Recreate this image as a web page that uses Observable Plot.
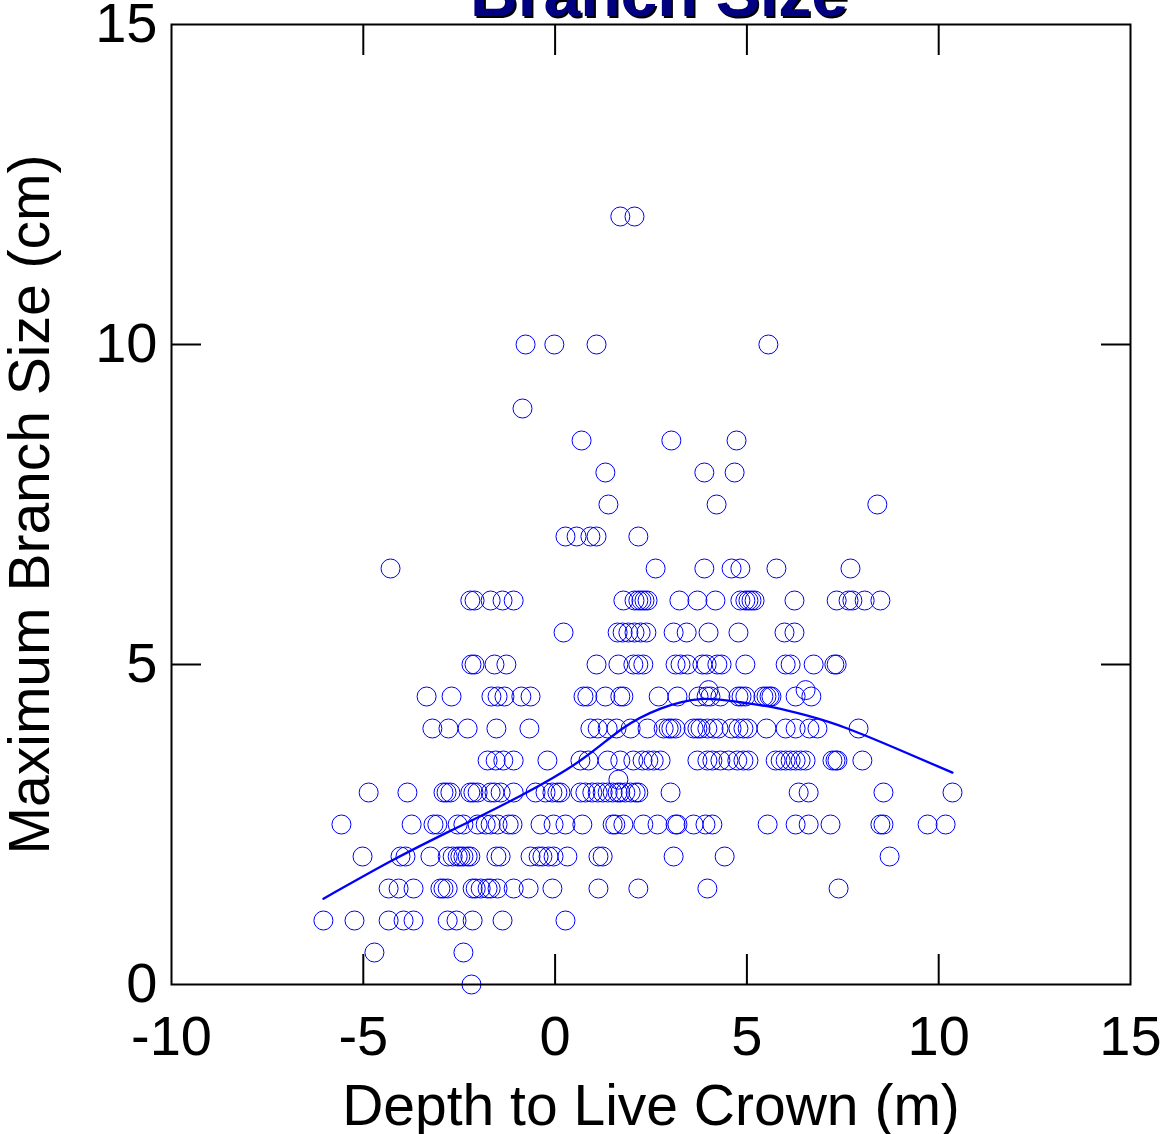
<!DOCTYPE html>
<html>
<head>
<meta charset="utf-8">
<script src="https://cdn.jsdelivr.net/npm/d3@7"></script>
<script src="https://cdn.jsdelivr.net/npm/@observablehq/plot@0.6"></script>
<style>
  body { margin: 0; background: #fff; }
  #chart svg { display: block; }
</style>
</head>
<body>
<div id="chart"></div>
<script>
// ---- Data ----
// Maximum branch size levels (cm)
const sizeLevels = [12, 10, 9, 8.5, 8, 7.5, 7, 6.5, 6, 5.5, 5, 4.6, 4.5, 4, 3.5, 3.2, 3, 2.5, 2, 1.5, 1, 0.5, 0];
// Depth to live crown (m) of each tree at that size level
const depthsAtLevel = [
  [1.70, 2.07],
  [-0.77, -0.02, 1.08, 5.56],
  [-0.85],
  [0.69, 3.03, 4.73],
  [1.31, 3.89, 4.68],
  [1.39, 4.21, 8.40],
  [0.27, 0.56, 0.92, 1.08, 2.17],
  [-4.29, 2.62, 3.89, 4.60, 4.83, 5.77, 7.70],
  [-2.21, -2.10, -1.68, -1.37, -1.08, 1.78, 2.07, 2.17, 2.25, 2.33, 2.41, 3.24, 3.71, 4.18, 4.83, 4.96, 5.04, 5.12, 5.20, 6.24, 7.34, 7.65, 7.75, 8.07, 8.48],
  [0.22, 1.63, 1.76, 1.91, 2.07, 2.23, 2.38, 3.09, 3.43, 4.00, 4.78, 5.98, 6.24],
  [-2.18, -2.10, -1.58, -1.27, 1.08, 1.65, 2.04, 2.17, 2.30, 3.14, 3.27, 3.45, 3.84, 3.95, 4.23, 4.34, 4.96, 6.01, 6.14, 6.74, 7.28, 7.34],
  [4.00, 6.53],
  [-3.35, -2.70, -1.66, -1.50, -1.32, -0.88, -0.64, 0.74, 0.84, 1.31, 1.70, 1.78, 2.70, 3.19, 3.74, 3.95, 4.05, 4.31, 4.78, 4.86, 4.96, 5.43, 5.51, 5.59, 5.64, 6.27, 6.68],
  [-3.20, -2.78, -2.28, -1.53, -0.67, 0.92, 1.11, 1.37, 1.60, 1.97, 2.41, 2.83, 2.96, 3.03, 3.14, 3.61, 3.71, 3.79, 3.97, 4.13, 4.26, 4.60, 4.78, 4.91, 5.02, 5.51, 6.01, 6.27, 6.63, 6.84, 7.91],
  [-1.76, -1.55, -1.35, -1.08, -0.20, 0.66, 0.87, 1.37, 1.70, 2.04, 2.28, 2.43, 2.57, 2.75, 3.71, 3.97, 4.10, 4.31, 4.52, 4.75, 4.91, 5.04, 5.75, 5.88, 6.01, 6.14, 6.27, 6.40, 6.53, 7.23, 7.31, 7.36, 8.01],
  [1.65],
  [-4.86, -3.85, -2.91, -2.83, -2.73, -2.21, -2.13, -2.02, -1.68, -1.58, -1.42, -1.08, -0.51, -0.25, -0.07, 0.06, 0.14, 0.66, 0.79, 0.97, 1.11, 1.24, 1.37, 1.50, 1.63, 1.70, 1.83, 1.97, 2.10, 2.17, 3.01, 6.35, 6.61, 8.56, 10.36],
  [-5.57, -3.74, -3.17, -3.07, -2.54, -2.39, -2.02, -1.81, -1.68, -1.50, -1.21, -1.11, -0.38, -0.04, 0.27, 0.71, 1.50, 1.57, 1.78, 2.30, 2.67, 3.14, 3.19, 3.61, 3.92, 4.10, 5.54, 6.27, 6.61, 7.18, 8.48, 8.56, 9.71, 10.18],
  [-5.02, -4.03, -3.90, -3.25, -2.80, -2.67, -2.54, -2.47, -2.39, -2.28, -2.21, -1.53, -1.42, -0.64, -0.43, -0.33, -0.17, -0.04, 0.32, 1.13, 1.24, 3.09, 4.42, 8.72],
  [-4.34, -4.08, -3.69, -2.99, -2.91, -2.80, -2.15, -2.07, -1.94, -1.76, -1.68, -1.50, -1.08, -0.69, -0.07, 1.13, 2.17, 3.97, 7.39],
  [-6.04, -5.23, -4.34, -3.95, -3.69, -2.80, -2.57, -2.15, -1.37, 0.27],
  [-4.71, -2.39],
  [-2.18]
];
// Smoothed trend line
const trendDepth = [-6.04, -4.24, -2.73, -0.90, 0.66, 1.76, 2.75, 3.79, 4.83, 5.69, 6.58, 7.62, 9.00, 10.36];
const trendSize  = [1.34, 1.94, 2.40, 2.95, 3.50, 4.00, 4.31, 4.46, 4.41, 4.33, 4.20, 4.00, 3.66, 3.31];

const xTicks = [-10, -5, 0, 5, 10, 15];
const yTicks = [0, 5, 10, 15];
const innerXTicks = [-5, 0, 5, 10];
const innerYTicks = [5, 10];

const titleText = "Branch Size";
const xLabel = "Depth to Live Crown (m)";
const yLabel = "Maximum Branch Size (cm)";

// ---- Build tables ----
const points = sizeLevels.flatMap((s, i) => depthsAtLevel[i].map(d => ({depth: d, size: s})));
const trend = trendDepth.map((d, i) => ({depth: d, size: trendSize[i]}));

const tickStyle = {tickSize: -30, strokeWidth: 2, stroke: "black", tickFormat: () => "", label: null};

const chart = Plot.plot({
  width: 1165,
  height: 1134,
  marginLeft: 171,
  marginRight: 35,
  marginTop: 24,
  marginBottom: 150,
  style: {fontFamily: "Arial, 'Liberation Sans', sans-serif", fontSize: "56px", color: "black", background: "white", overflow: "hidden"},
  x: {domain: [-10, 15]},
  y: {domain: [0, 15]},
  marks: [
    Plot.dot(points, {x: "depth", y: "size", r: 9.5, stroke: "#0000ff", strokeWidth: 1, fill: "none"}),
    Plot.line(trend, {x: "depth", y: "size", stroke: "#0000ff", strokeWidth: 2.3, curve: "natural"}),
    Plot.axisX(innerXTicks, {anchor: "bottom", ...tickStyle}),
    Plot.axisX(innerXTicks, {anchor: "top", ...tickStyle}),
    Plot.axisY(innerYTicks, {anchor: "left", ...tickStyle}),
    Plot.axisY(innerYTicks, {anchor: "right", ...tickStyle}),
    Plot.axisX(xTicks, {anchor: "bottom", tickSize: 0, tickPadding: 31, tickFormat: d => String(d), label: null, fill: "black"}),
    Plot.axisY(yTicks, {anchor: "left", tickSize: 0, tickPadding: 14, tickFormat: d => String(d), label: null, fill: "black"}),
    Plot.frame({stroke: "black", strokeWidth: 2}),
    Plot.text([xLabel], {text: d => d, frameAnchor: "bottom", dy: 122, lineAnchor: "middle", textAnchor: "middle", fill: "black", fontSize: 57}),
    Plot.text([yLabel], {text: d => d, frameAnchor: "left", dx: -141, rotate: -90, lineAnchor: "middle", textAnchor: "middle", fill: "black", fontSize: 57}),
    Plot.text([titleText], {text: d => d, frameAnchor: "top", dx: 10, dy: -28, lineAnchor: "middle", textAnchor: "middle", fill: "black", fontSize: 66, fontWeight: "bold"}),
    Plot.text([titleText], {text: d => d, frameAnchor: "top", dx: 8, dy: -30, lineAnchor: "middle", textAnchor: "middle", fill: "#000080", fontSize: 66, fontWeight: "bold"})
  ]
});
document.getElementById("chart").appendChild(chart);
</script>
</body>
</html>
